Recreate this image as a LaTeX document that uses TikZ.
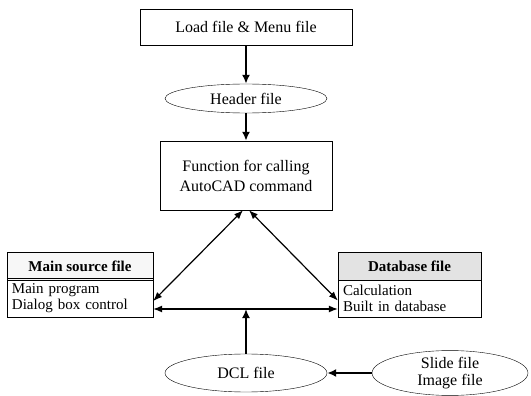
\documentclass[tikz,border=0pt]{standalone}
\usepackage{fontspec}
\setmainfont{Liberation Serif}
\usetikzlibrary{shapes.geometric,arrows.meta}
\tikzset{
	filebox/.style  = {draw, rectangle, align = center, inner sep = 0pt, font = \fontsize{16}{20}\selectfont},
	fileoval/.style = {draw, ellipse, align = center, inner sep = 0pt, font = \fontsize{16}{17}\selectfont},
	headbox/.style  = {draw, rectangle, inner sep = 0pt, font = \fontsize{15}{17}\selectfont\bfseries},
	bodybox/.style  = {draw, rectangle, inner sep = 5pt, align = left, text width = 130pt, font = \fontsize{15}{16}\selectfont},
	link/.style     = {-{Latex[length=9pt,width=8pt]}, line width = 1.8pt},
	twoway/.style   = {{Latex[length=9pt,width=7pt]}-{Latex[length=9pt,width=7pt]}, line width = 1.2pt}
}
\begin{document}
\begin{tikzpicture}[x = 1pt, y = -1pt]
		\useasboundingbox (0,0) rectangle (531,396);
		% upper chain
		\node(load)  [filebox, minimum width = 212pt, minimum height = 36pt] at (246,27) {Load file \& Menu file};
		\node(head)  [fileoval, minimum width = 162pt, minimum height = 29pt] at (246,98.5) {Header file};
		\node(func)  [filebox, minimum width = 172pt, minimum height = 69pt] at (246,175.5) {Function for calling\\AutoCAD command};
		% source and database files
		\node(mainhead) [headbox, minimum width = 146pt, minimum height = 28pt, fill = gray!6] at (80,266) {Main source file};
		\node(mainbody) [bodybox, minimum width = 146pt, minimum height = 36pt, text width = 136pt] at (80,298) {Main program\\Dialog box control};
		\node(dbhead)   [headbox, minimum width = 143pt, minimum height = 28pt, fill = gray!22] at (409.5,266) {Database file};
		\node(dbbody)   [bodybox, minimum width = 143pt, minimum height = 37pt, text width = 133pt] at (409.5,298.5) {Calculation\\Built in database};
		% lower ovals
		\node(dcl)   [fileoval, minimum width = 162pt, minimum height = 38pt] at (246,373) {DCL file};
		\node(slide) [fileoval, minimum width = 156pt, minimum height = 42pt] at (450,373) {Slide file\\Image file};
		\coordinate (meet) at (246,309);
		
		\draw[link] (load) -- (head);
		\draw[link] (head) -- (func);
		\draw[twoway] ([xshift=-3pt]func.south) -- ([yshift=-3pt]mainbody.east);
		\draw[twoway] ([xshift=3pt]func.south) -- ([yshift=-2pt]dbbody.west);
		\draw[twoway] ([yshift=-11pt]mainbody.east) -- ([yshift=-10.5pt]dbbody.west);
		\draw[link] (dcl) -- (meet);
		\draw[link] (slide) -- (dcl);
\end{tikzpicture}
\end{document}
